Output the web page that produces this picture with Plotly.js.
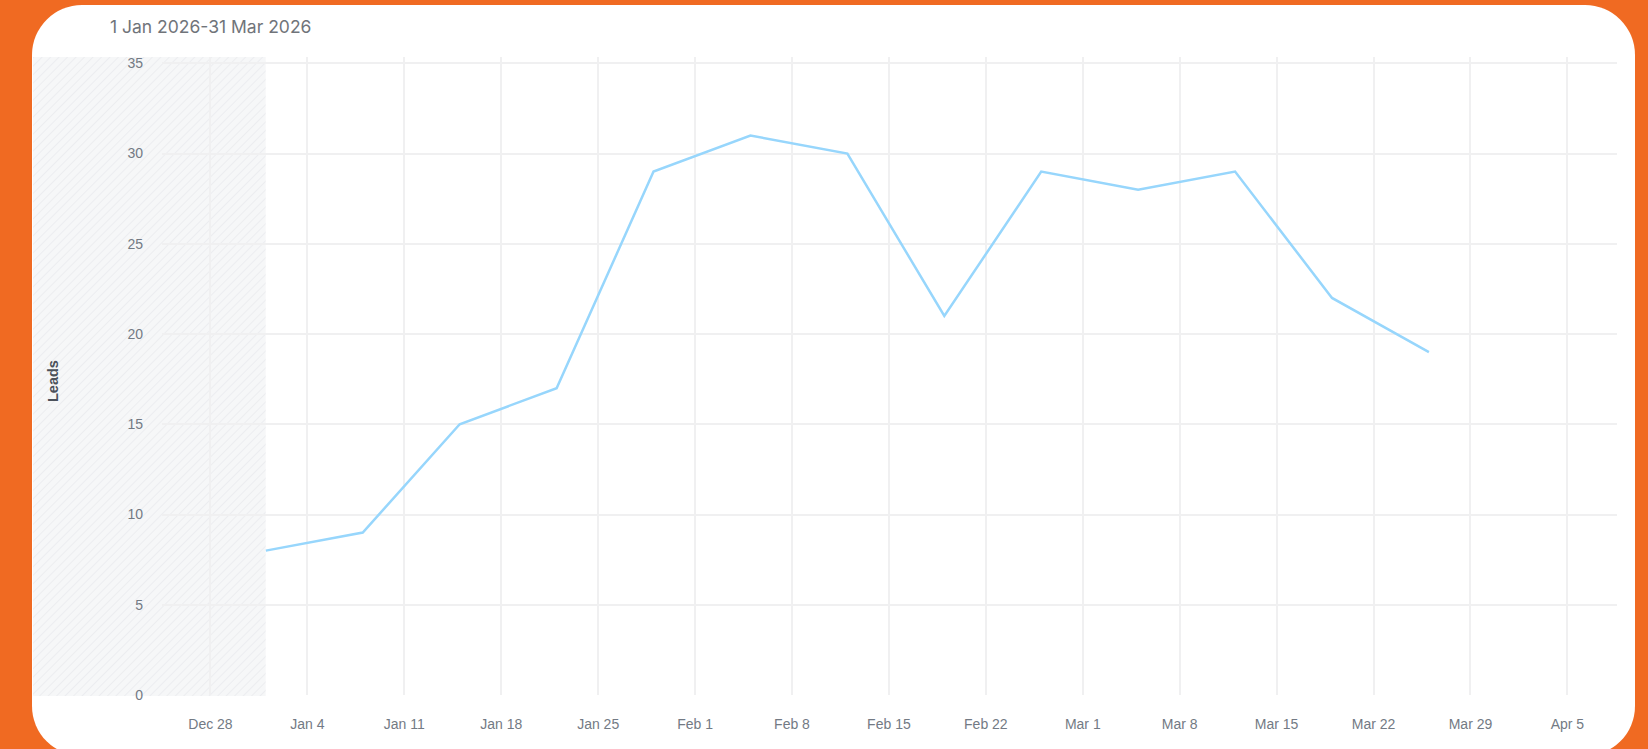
<!DOCTYPE html>
<html>
<head>
<meta charset="utf-8">
<script src="https://cdn.plot.ly/plotly-3.0.1.min.js"></script>
<style>
  html, body { margin: 0; padding: 0; width: 1648px; height: 749px; overflow: hidden; background: #F06A22; }
  #card { position: absolute; left: 32px; top: 5px; width: 1603px; height: 751px; background: #ffffff; border-radius: 50px; overflow: hidden; }
</style>
</head>
<body>
<div id="card"></div>
<script>
// ---- data ----
const weekStarts = ['2026-01-01','2026-01-08','2026-01-15','2026-01-22','2026-01-29','2026-02-05','2026-02-12',
                    '2026-02-19','2026-02-26','2026-03-05','2026-03-12','2026-03-19','2026-03-26'];
const leads = [8, 9, 15, 17, 29, 31, 30, 21, 29, 28, 29, 22, 19];
const periodLabel = '1 Jan 2026-31 Mar 2026';
const yTitle = 'Leads';
const xRange = ['2025-12-24 12:00', '2026-04-08 14:00'];
const yRange = [0, 35.35];
const yTicks = [0, 5, 10, 15, 20, 25, 30, 35];

// ---- layout geometry ----
const W = 1603, H = 751;
const M = {l: 130, r: 18, t: 52, b: 61, pad: 0};
const plotW = W - M.l - M.r, plotH = H - M.t - M.b;

// hatched "before period" band: from card edge to first data date
const t0 = new Date(xRange[0].replace(' ', 'T') + 'Z').getTime();
const t1 = new Date(xRange[1].replace(' ', 'T') + 'Z').getTime();
const tStart = new Date(weekStarts[0] + 'T00:00:00Z').getTime();
const fracStart = (tStart - t0) / (t1 - t0);
const leftPaper = -(M.l - 1) / plotW;
const bandPxW = Math.round((fracStart - leftPaper) * plotW);
const bandPxH = plotH + 1;
const svg = `<svg xmlns="http://www.w3.org/2000/svg" width="${bandPxW}" height="${bandPxH}">
<defs><pattern id="h" patternUnits="userSpaceOnUse" width="6" height="6" patternTransform="rotate(45)">
<rect width="6" height="6" fill="#f6f7f8"/><line x1="0" y1="0" x2="0" y2="6" stroke="#e8eaed" stroke-width="1.4"/></pattern></defs>
<rect width="100%" height="100%" fill="url(#h)"/></svg>`;
const hatchSrc = 'data:image/svg+xml;charset=utf-8,' + encodeURIComponent(svg);

const trace = {
  x: weekStarts, y: leads, type: 'scatter', mode: 'lines',
  line: {color: '#97d6fc', width: 2.5},
  hoverinfo: 'x+y'
};

const tickFont = {family: 'Liberation Sans, Arial, sans-serif', size: 14, color: '#737a84'};

const layout = {
  width: W, height: H, margin: M,
  paper_bgcolor: 'rgba(0,0,0,0)', plot_bgcolor: 'rgba(0,0,0,0)',
  showlegend: false,
  title: {
    text: periodLabel, xref: 'container', yref: 'container',
    x: 78 / W, xanchor: 'left', y: 1 - 22 / H, yanchor: 'middle',
    font: {family: 'Inter, Open Sans, sans-serif', size: 17.5, color: '#70747a'}
  },
  xaxis: {
    type: 'date', range: xRange,
    tick0: '2025-12-28', dtick: 7 * 86400000, tickformat: '%b %-d',
    showgrid: true, gridcolor: '#f0f0f1', gridwidth: 2,
    zeroline: false, showline: false, ticks: '',
    ticklabelstandoff: 19, tickfont: tickFont
  },
  yaxis: {
    range: yRange, tickvals: yTicks,
    showgrid: true, gridcolor: '#f0f0f1', gridwidth: 2,
    zeroline: false, showline: false, ticks: '',
    ticklabelstandoff: 18, tickfont: tickFont
  },
  images: [{
    source: hatchSrc, xref: 'paper', yref: 'paper',
    x: leftPaper, y: 1, xanchor: 'left', yanchor: 'top',
    sizex: fracStart - leftPaper, sizey: bandPxH / plotH,
    sizing: 'stretch', layer: 'below'
  }],
  annotations: [{
    text: '<b>' + yTitle + '</b>', xref: 'paper', yref: 'paper',
    x: -(M.l - 21) / plotW, y: 0.5 - 5 / plotH, textangle: -90, showarrow: false,
    xanchor: 'center', yanchor: 'middle',
    font: {family: 'Liberation Sans, Arial, sans-serif', size: 14.5, color: '#4b515a'}
  }]
};

Plotly.newPlot('card', [trace], layout, {displayModeBar: false, responsive: false});
</script>
</body>
</html>
